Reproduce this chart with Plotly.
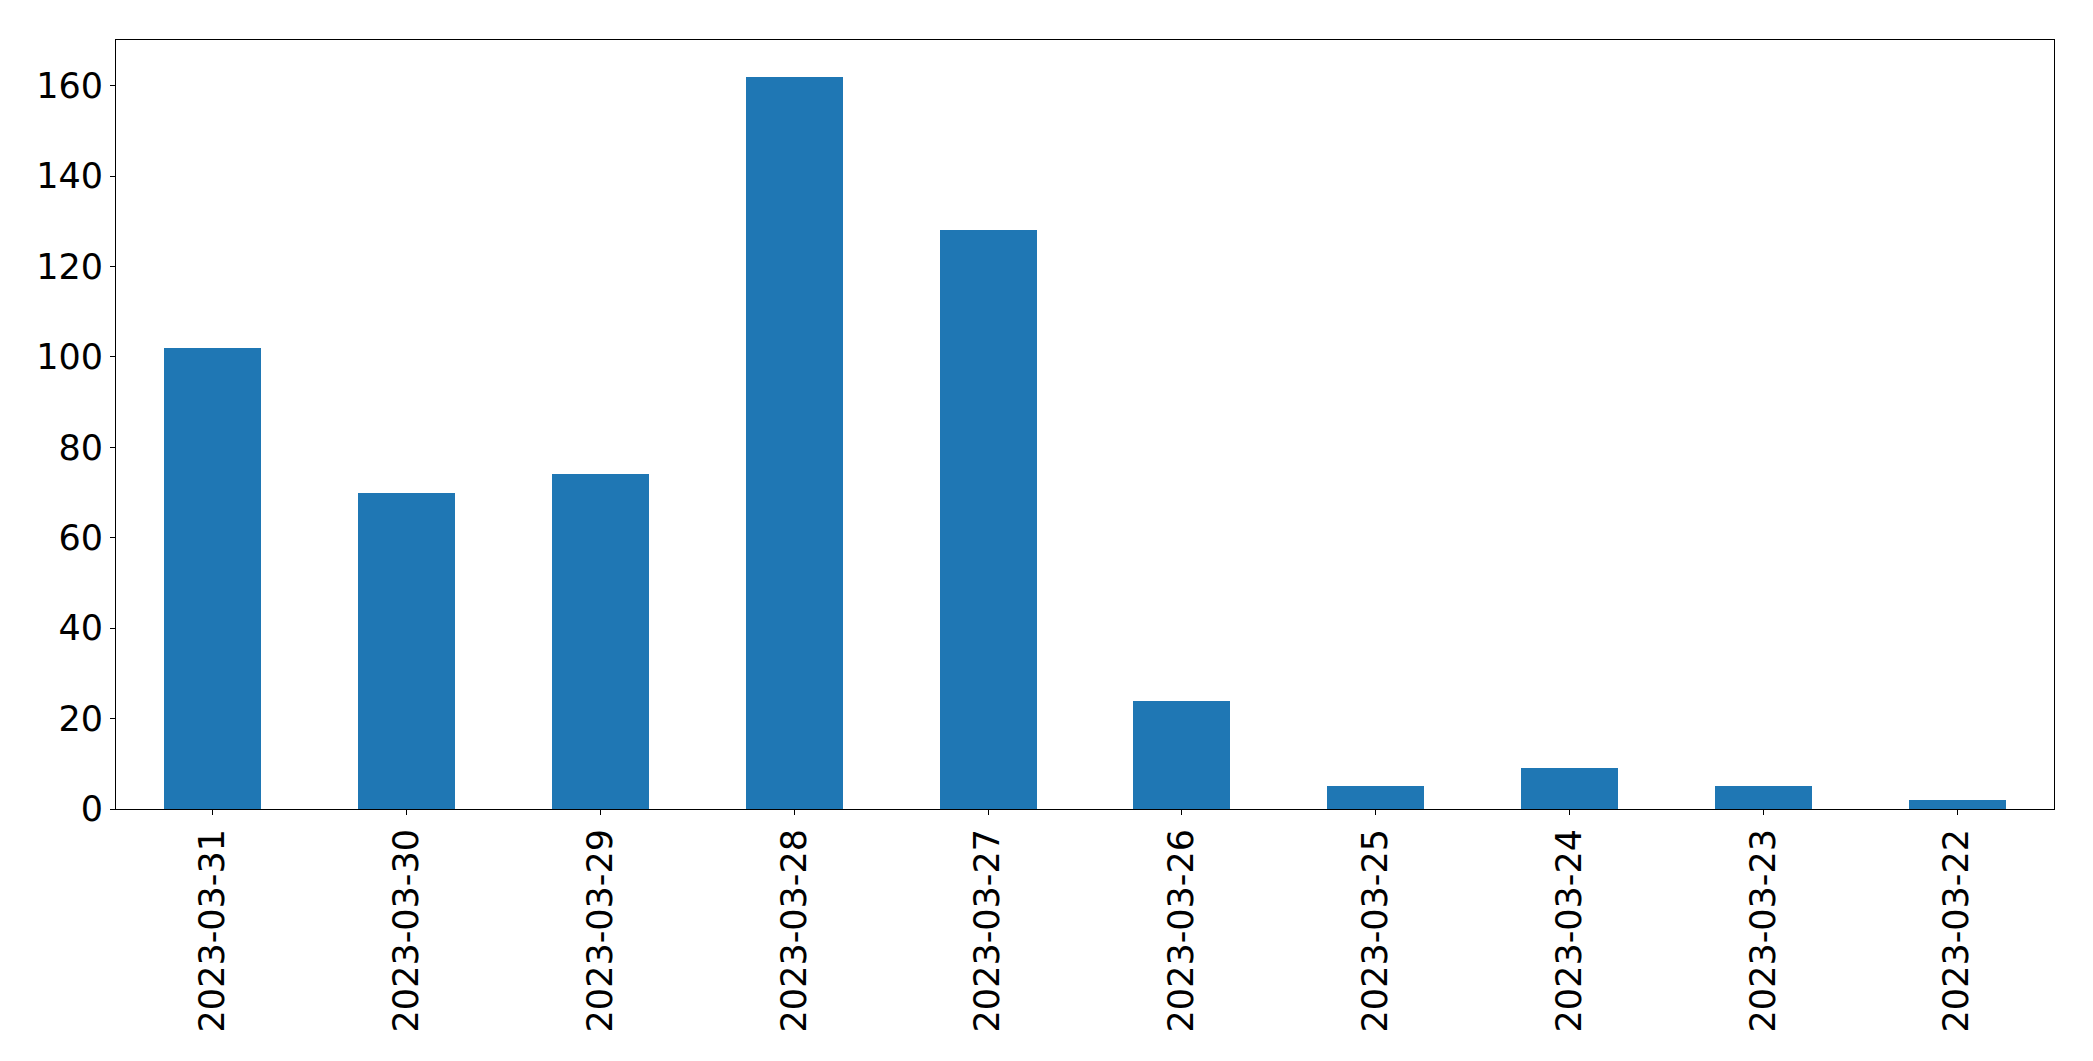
import plotly.graph_objects as go

dates = ["2023-03-31", "2023-03-30", "2023-03-29", "2023-03-28", "2023-03-27",
         "2023-03-26", "2023-03-25", "2023-03-24", "2023-03-23", "2023-03-22"]
counts = [102, 70, 74, 162, 128, 24, 5, 9, 5, 2]
y_ticks = [0, 20, 40, 60, 80, 100, 120, 140, 160]

fig = go.Figure(go.Bar(x=dates, y=counts, width=0.5, marker=dict(color="#1f77b4", line=dict(width=0))))

axis_common = dict(
    showline=True, linecolor="black", linewidth=1, mirror=True,
    ticks="outside", ticklen=5, tickwidth=1, tickcolor="black",
    showgrid=False, zeroline=False,
    tickfont=dict(family="DejaVu Sans", size=35, color="black"),
)

# page body has an 8px default margin; compensate so the plot area lands where the reference has it
fig.update_layout(
    width=2085, height=1053,
    margin=dict(l=108, r=39, t=32, b=252),
    plot_bgcolor="white", paper_bgcolor="white",
    showlegend=False,
    bargap=0,
    xaxis=dict(type="category", range=[-0.5, len(dates) - 0.5], tickangle=-90, **axis_common),
    yaxis=dict(range=[0, max(counts) * 1.05], tickmode="array", tickvals=y_ticks, **axis_common),
)

fig.write_html("out.html")
